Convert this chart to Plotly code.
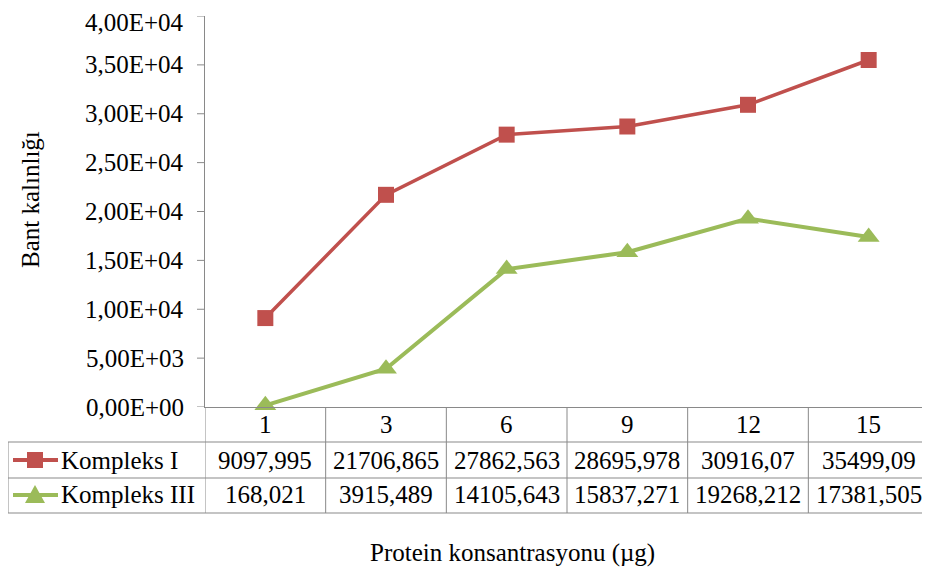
import plotly.graph_objects as go

categories = ["1", "3", "6", "9", "12", "15"]
series_names = ["Kompleks I", "Kompleks III"]
kompleks_1 = [9097.995, 21706.865, 27862.563, 28695.978, 30916.07, 35499.09]
kompleks_3 = [168.021, 3915.489, 14105.643, 15837.271, 19268.212, 17381.505]
y_ticks = [0, 5000, 10000, 15000, 20000, 25000, 30000, 35000, 40000]
y_title = "Bant kalınlığı"
x_title = "Protein konsantrasyonu (µg)"

RED = "#C0504D"
GREEN = "#9BBB59"
GRID = "#898989"
FONT = "Liberation Serif, Times New Roman, serif"
FS = 25

OFF = 8  # page body margin
W, H = 930 - OFF, 578 - OFF
# plot area in page pixels: x 205..929, y 16..407
L = 205 - OFF
T = 16 - OFF
R = W - (929 - OFF)
B = H - (407 - OFF)
PW = W - L - R
PH = H - T - B


def xp(px):
    return (px - OFF - L) / PW


def yp(py):
    return (H - B - (py - OFF)) / PH


idx = list(range(len(categories)))

fig = go.Figure()
fig.add_trace(go.Scatter(x=idx, y=kompleks_1, mode="lines+markers", name=series_names[0],
                         line=dict(color=RED, width=3.5),
                         marker=dict(symbol="square", size=16, color=RED), cliponaxis=False))
fig.add_trace(go.Scatter(x=idx, y=kompleks_3, mode="lines+markers", name=series_names[1],
                         line=dict(color=GREEN, width=4),
                         marker=dict(symbol="triangle-up", size=19, color=GREEN), cliponaxis=False))

shapes = []
line_style = dict(color=GRID, width=1)
for k in range(len(categories) + 1):
    shapes.append(dict(type="line", xref="x", yref="paper", x0=k - 0.5, x1=k - 0.5,
                       y0=yp(407), y1=yp(513), line=line_style))
shapes.append(dict(type="line", xref="paper", yref="paper", x0=xp(8), x1=xp(8),
                   y0=yp(442), y1=yp(513), line=line_style))
for py in [442, 478, 513]:
    shapes.append(dict(type="line", xref="paper", yref="paper", x0=xp(8), x1=xp(929),
                       y0=yp(py), y1=yp(py), line=line_style))
# y tick marks
for v in y_ticks:
    shapes.append(dict(type="line", xref="paper", yref="y", x0=xp(197), x1=xp(205),
                       y0=v, y1=v, line=line_style))

row_y = [460, 495]
for color, ry in zip([RED, GREEN], row_y):
    shapes.append(dict(type="line", xref="paper", yref="paper", x0=xp(13), x1=xp(58),
                       y0=yp(ry), y1=yp(ry), line=dict(color=color, width=4)))
shapes.append(dict(type="rect", xref="paper", yref="paper", x0=xp(27), x1=xp(43),
                   y0=yp(row_y[0] + 8), y1=yp(row_y[0] - 8), line=dict(width=0), fillcolor=RED))
tx, ty = 35, row_y[1]
shapes.append(dict(type="path", xref="paper", yref="paper",
                   path=f"M {xp(tx-10)} {yp(ty+8)} L {xp(tx+10)} {yp(ty+8)} L {xp(tx)} {yp(ty-10)} Z",
                   line=dict(width=0), fillcolor=GREEN))

annotations = []
for v in y_ticks:
    annotations.append(dict(x=xp(186), y=v, xref="paper", yref="y",
                            text=f"{v:.2E}".replace(".", ","), showarrow=False,
                            xanchor="right", yanchor="middle", font=dict(size=FS),
                            yshift=-6 if v == max(y_ticks) else 0))
for i, c in enumerate(categories):
    annotations.append(dict(x=i, y=yp(425), xref="x", yref="paper", text=c, showarrow=False,
                            xanchor="center", yanchor="middle", font=dict(size=FS)))
for vals, ry in zip([kompleks_1, kompleks_3], row_y):
    for i, v in enumerate(vals):
        annotations.append(dict(x=i, y=yp(ry), xref="x", yref="paper", text=str(v).replace(".", ","),
                                showarrow=False, xanchor="center", yanchor="middle", font=dict(size=FS)))
for name, ry in zip(series_names, row_y):
    annotations.append(dict(x=xp(59), y=yp(ry), xref="paper", yref="paper", text=name, showarrow=False,
                            xanchor="left", yanchor="middle", font=dict(size=FS)))
annotations.append(dict(x=xp(30), y=yp(200), xref="paper", yref="paper", text=y_title, textangle=-90,
                        showarrow=False, xanchor="center", yanchor="middle", font=dict(size=FS)))
annotations.append(dict(x=xp(512), y=yp(553), xref="paper", yref="paper", text=x_title,
                        showarrow=False, xanchor="center", yanchor="middle", font=dict(size=FS)))

fig.update_layout(
    width=W, height=H,
    margin=dict(l=L, r=R, t=T, b=B),
    paper_bgcolor="white", plot_bgcolor="white",
    font=dict(family=FONT, size=FS, color="black"),
    showlegend=False,
    shapes=shapes, annotations=annotations,
    xaxis=dict(range=[-0.5, len(categories) - 0.5], showgrid=False, zeroline=False,
               showline=True, linecolor=GRID, linewidth=1, showticklabels=False, ticks=""),
    yaxis=dict(range=[0, 40000], showgrid=False, zeroline=False, showline=True, linecolor=GRID,
               linewidth=1, ticks="", showticklabels=False),
)

fig.write_html("out.html")
